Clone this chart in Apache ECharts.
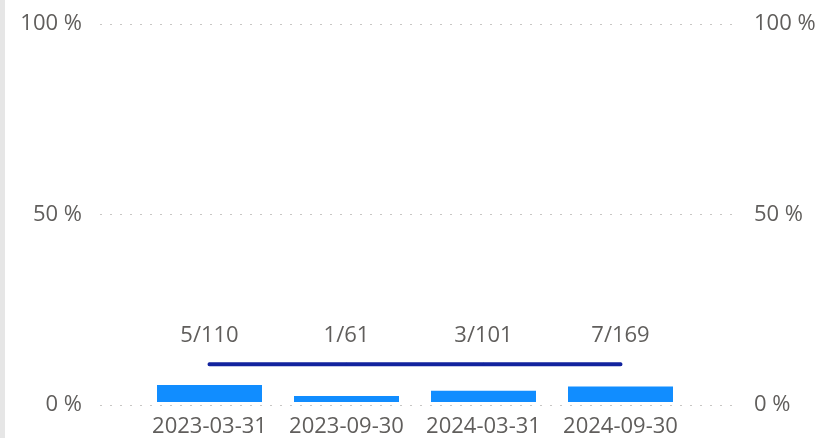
<!DOCTYPE html>
<html>
<head>
<meta charset="utf-8">
<script src="https://cdn.jsdelivr.net/npm/echarts@6/dist/echarts.min.js"></script>
<style>html,body{margin:0;padding:0;background:#fff}#c{width:822px;height:438px}</style>
</head>
<body>
<div id="c"></div>
<script>
var categories = ['2023-03-31', '2023-09-30', '2024-03-31', '2024-09-30'];
var barValues = [4.5, 1.6, 3.0, 4.1];
var targetValues = [10, 10, 10, 10];
var ratioLabels = ['5/110', '1/61', '3/101', '7/169'];
var yTicks = [0, 50, 100];

var font = '"Open Sans", "Noto Sans", sans-serif';
var textColor = '#605E5C';
var chart = echarts.init(document.getElementById('c'), null, {renderer: 'canvas'});
chart.setOption({
  animation: false,
  backgroundColor: '#fff',
  graphic: [{type: 'rect', shape: {x: 0, y: 0, width: 5, height: 438}, style: {fill: '#e6e6e6'}}],
  grid: [
    {left: 100, right: 89, top: 24, bottom: 33},
    {left: 141, right: 133, top: 24, bottom: 33}
  ],
  xAxis: [
    {type: 'value', gridIndex: 0, show: false, min: 0, max: 1},
    {type: 'category', gridIndex: 1, data: categories,
     axisLine: {show: false}, axisTick: {show: false},
     axisLabel: {color: textColor, fontFamily: font, fontSize: 22, margin: 14, interval: 0, hideOverlap: false}}
  ],
  yAxis: [
    {type: 'value', gridIndex: 0, min: 0, max: 100, interval: 50, position: 'left',
     axisLabel: {color: textColor, fontFamily: font, fontSize: 22, margin: 18, formatter: '{value} %'},
     axisLine: {show: false}, axisTick: {show: false},
     splitLine: {show: true, lineStyle: {color: '#c8c6c4', type: [2, 8], width: 1}}},
    {type: 'value', gridIndex: 0, min: 0, max: 100, interval: 50, position: 'right',
     axisLabel: {color: textColor, fontFamily: font, fontSize: 22, margin: 21, formatter: '{value} %'},
     axisLine: {show: false}, axisTick: {show: false}, splitLine: {show: false}},
    {type: 'value', gridIndex: 1, min: 0, max: 100, show: false, splitLine: {show: false}}
  ],
  series: [
    {type: 'bar', xAxisIndex: 1, yAxisIndex: 2, data: barValues, barWidth: 105,
     itemStyle: {color: '#118DFF'}},
    {type: 'line', xAxisIndex: 1, yAxisIndex: 2, data: targetValues,
     symbol: 'circle', symbolSize: 3, itemStyle: {color: '#12239E'},
     lineStyle: {color: '#12239E', width: 4, cap: 'round'},
     label: {show: true, position: 'top', distance: 16, color: textColor, fontFamily: font, fontSize: 22,
       formatter: function (p) { return ratioLabels[p.dataIndex]; }}}
  ]
});
</script>
</body>
</html>
